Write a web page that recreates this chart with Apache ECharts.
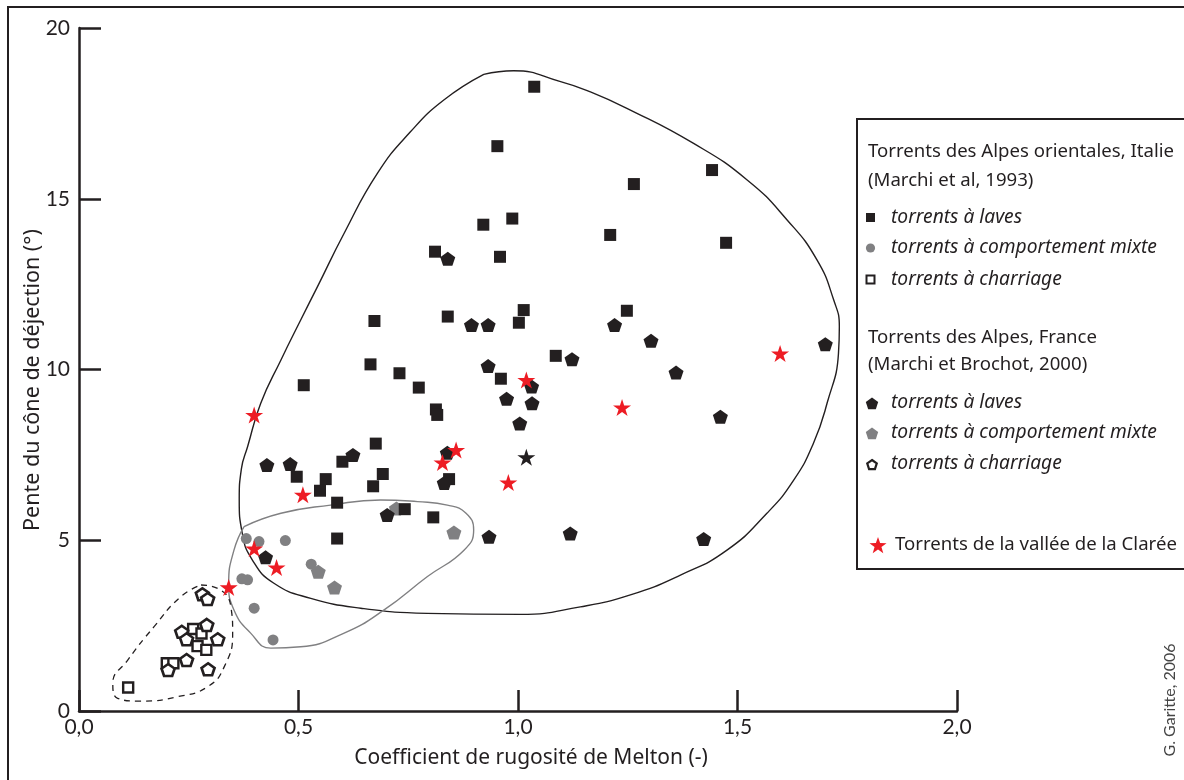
<!DOCTYPE html>
<html>
<head>
<meta charset="utf-8">
<script src="https://cdn.jsdelivr.net/npm/echarts@6/dist/echarts.min.js"></script>
<style>
html,body{margin:0;padding:0;background:#fff;}
#chart{width:1184px;height:780px;}
</style>
</head>
<body>
<div id="chart"></div>
<script>
// ---------- DATA ----------
const xTicks = [0, 0.5, 1.0, 1.5, 2.0];
const yTicks = [0, 5, 10, 15, 20];

// Torrents des Alpes orientales, Italie (Marchi et al, 1993)
const italieLaves = [
  [1.037,18.28],[0.953,16.54],[0.987,14.42],[0.921,14.24],[0.811,13.45],[0.959,13.30],
  [1.013,11.74],[0.840,11.55],[1.002,11.37],[0.673,11.42],[0.664,10.15],[0.730,9.89],
  [0.512,9.54],[0.774,9.47],[0.813,8.83],[0.816,8.67],[0.961,9.73],[1.086,10.40],
  [0.676,7.83],[0.600,7.30],[0.496,6.86],[0.562,6.79],[0.549,6.45],[0.692,6.94],
  [0.670,6.58],[0.588,6.10],[0.843,6.79],[0.742,5.91],[0.807,5.67],[0.588,5.05],
  [1.442,15.84],[1.264,15.43],[1.210,13.94],[1.474,13.71],[1.248,11.72]
];
const italieMixte = [
  [0.381,5.05],[0.410,4.96],[0.470,4.99],[0.529,4.30],[0.371,3.87],[0.384,3.84],
  [0.399,3.01],[0.442,2.08]
];
const italieCharriage = [
  [0.260,2.40],[0.279,2.27],[0.270,1.90],[0.290,1.79],[0.200,1.40],[0.215,1.40],[0.112,0.69]
];

// Torrents des Alpes, France (Marchi et Brochot, 2000)
const franceLaves = [
  [0.840,13.24],[0.894,11.30],[0.932,11.30],[0.932,10.10],[1.031,9.50],[1.123,10.30],
  [0.974,9.14],[1.032,9.01],[1.004,8.42],[0.624,7.50],[0.428,7.20],[0.481,7.23],
  [0.839,7.56],[0.832,6.68],[0.702,5.74],[0.934,5.10],[1.119,5.20],[1.220,11.30],
  [1.303,10.84],[1.360,9.91],[1.700,10.74],[1.461,8.62],[1.423,5.04],[0.425,4.50]
];
const franceMixte = [
  [0.723,5.93],[0.854,5.23],[0.545,4.08],[0.582,3.62]
];
const franceCharriage = [
  [0.281,3.42],[0.293,3.28],[0.291,2.52],[0.234,2.32],[0.245,2.10],[0.316,2.10],
  [0.245,1.49],[0.203,1.20],[0.294,1.22]
];

// Torrents de la vallée de la Clarée
const claree = [
  [0.399,8.67],[0.510,6.33],[0.859,7.64],[0.828,7.28],[1.019,9.69],[0.978,6.69],
  [1.237,8.89],[1.597,10.47],[0.399,4.76],[0.450,4.20],[0.341,3.62]
];
const clareeNoir = [[1.019,7.43]];

// Enveloppes (contours tracés à main levée)
const envLaves = [
  [0.922,18.64],[0.990,18.75],[1.097,18.43],[1.165,18.13],[1.248,17.65],[1.400,16.62],
  [1.522,15.55],[1.613,14.38],[1.681,13.21],[1.719,12.04],[1.732,11.25],[1.730,10.47],
  [1.704,9.01],[1.673,7.84],[1.628,6.76],[1.567,5.79],[1.476,4.71],[1.370,3.98],
  [1.256,3.40],[1.142,3.05],[1.006,2.83],[0.793,2.86],[0.642,3.01],[0.528,3.30],
  [0.444,3.74],[0.395,4.42],[0.372,5.20],[0.365,6.18],[0.370,7.10],[0.384,7.74],
  [0.414,9.01],[0.460,10.28],[0.505,11.45],[0.543,12.42],[0.604,13.99],[0.680,15.75],
  [0.755,16.96],[0.831,17.89],[0.922,18.64]
];
const envMixte = [
  [0.376,5.40],[0.460,5.79],[0.573,6.03],[0.687,6.18],[0.771,6.13],[0.839,6.03],
  [0.881,5.80],[0.899,5.30],[0.877,4.71],[0.793,3.93],[0.695,2.96],[0.604,2.28],
  [0.505,1.88],[0.437,1.84],[0.391,2.28],[0.353,2.96],[0.341,3.74],[0.353,4.71],[0.376,5.40]
];
const envCharriage = [
  [0.278,3.69],[0.316,3.59],[0.346,3.05],[0.350,2.28],[0.331,1.30],[0.293,0.71],
  [0.225,0.42],[0.141,0.29],[0.088,0.37],[0.077,0.81],[0.111,1.49],[0.171,2.47],
  [0.232,3.35],[0.278,3.69]
];

// ---------- STYLE ----------
const INK = '#231f20';
const GREY = '#808082';
const RED = '#ed1c24';
const FONT = 'Lato';
const TFONT = 'Noto Sans';
const PENTA = 'path://M0,-1 L0.951,-0.309 L0.588,0.809 L-0.588,0.809 L-0.951,-0.309 Z';
const STAR = 'path://M0,-1 L0.2245,-0.309 L0.951,-0.309 L0.363,0.118 L0.588,0.809 L0,0.382 L-0.588,0.809 L-0.363,0.118 L-0.951,-0.309 L-0.2245,-0.309 Z';

function fmt(v){ return v.toFixed(1).replace('.', ','); }

function pentaPts(cx, cy, r){
  const p = [];
  for (let i = 0; i < 5; i++){
    const a = -Math.PI/2 + i*2*Math.PI/5;
    p.push([cx + r*Math.cos(a), cy + r*Math.sin(a)]);
  }
  return p;
}
function starPts(cx, cy, R, r){
  const p = [];
  for (let i = 0; i < 10; i++){
    const a = -Math.PI/2 + i*Math.PI/5;
    const rr = i % 2 === 0 ? R : r;
    p.push([cx + rr*Math.cos(a), cy + rr*Math.sin(a)]);
  }
  return p;
}

const chart = echarts.init(document.getElementById('chart'), null, {renderer:'canvas'});

function envSeries(data, color, type, width){
  return {
    type:'line', data:data, smooth:0.5, symbol:'none', z:1, silent:true,
    lineStyle:{color:color, width:width, type:type}
  };
}

const legendText = {fill:INK, fontFamily:TFONT, fontSize:18.6};
const legendItal = {fill:INK, fontFamily:TFONT, fontSize:19.2, fontStyle:'italic'};

const option = {
  animation:false,
  backgroundColor:'#fff',
  grid:{left:79, right:227, top:28, bottom:69, containLabel:false},
  xAxis:{
    type:'value', min:0, max:2, interval:0.5,
    axisLine:{show:true, lineStyle:{color:INK, width:2.5}},
    axisTick:{show:true, inside:true, length:21, lineStyle:{color:INK, width:2.5}},
    axisLabel:{color:INK, fontFamily:FONT, fontSize:21, margin:6, formatter:fmt},
    splitLine:{show:false}
  },
  yAxis:{
    type:'value', min:0, max:20, interval:5,
    axisLine:{show:true, lineStyle:{color:INK, width:2.5}},
    axisTick:{show:true, inside:true, length:22, lineStyle:{color:INK, width:2.5}},
    axisLabel:{color:INK, fontFamily:FONT, fontSize:21, margin:9},
    splitLine:{show:false}
  },
  series:[
    envSeries(envLaves, INK, 'solid', 1.4),
    envSeries(envMixte, GREY, 'solid', 1.4),
    envSeries(envCharriage, INK, [6,5], 1.3),
    {name:'Italie mixte', type:'scatter', data:italieMixte, symbol:'circle', symbolSize:11, z:3,
      itemStyle:{color:GREY, opacity:1}},
    {name:'France mixte', type:'scatter', data:franceMixte, symbol:PENTA, symbolSize:[15,14], z:3,
      itemStyle:{color:GREY, opacity:1}},
    {name:'Italie charriage', type:'scatter', data:italieCharriage, symbol:'rect', symbolSize:10, z:4,
      itemStyle:{color:'#fff', borderColor:INK, borderWidth:2.4, opacity:1}},
    {name:'France charriage', type:'scatter', data:franceCharriage, symbol:PENTA, symbolSize:[13,12], z:4,
      itemStyle:{color:'#fff', borderColor:INK, borderWidth:2.6, opacity:1}},
    {name:'Italie laves', type:'scatter', data:italieLaves, symbol:'rect', symbolSize:12, z:5,
      itemStyle:{color:INK, opacity:1}},
    {name:'France laves', type:'scatter', data:franceLaves, symbol:PENTA, symbolSize:[15,14], z:5,
      itemStyle:{color:INK, opacity:1}},
    {name:'Clarée (noir)', type:'scatter', data:clareeNoir, symbol:STAR, symbolSize:[18,17], z:6,
      itemStyle:{color:INK, opacity:1}},
    {name:'Clarée', type:'scatter', data:claree, symbol:STAR, symbolSize:[18,17], z:7,
      itemStyle:{color:RED, opacity:1}}
  ],
  graphic:[
    // cadre extérieur
    {type:'rect', shape:{x:8, y:7, width:1200, height:800}, style:{fill:'none', stroke:INK, lineWidth:2}, z:0, silent:true},
    // titres des axes
    {type:'text', x:531, y:758,
      style:{text:'Coefficient de rugosité de Melton (-)', fill:INK, fontFamily:TFONT, fontSize:21, align:'center', verticalAlign:'middle'}, z:11},
    {type:'text', x:33, y:380, rotation:Math.PI/2,
      style:{text:'Pente du cône de déjection (°)', fill:INK, fontFamily:TFONT, fontSize:21.5, align:'center', verticalAlign:'middle'}, z:11},
    // légende
    {type:'rect', shape:{x:857, y:119, width:340, height:450}, style:{fill:'#fff', stroke:INK, lineWidth:2}, z:10},
    {type:'text', x:868, y:152, style:Object.assign({text:'Torrents des Alpes orientales, Italie', verticalAlign:'middle'}, legendText), z:11},
    {type:'text', x:868, y:181, style:Object.assign({text:'(Marchi et al, 1993)', verticalAlign:'middle'}, legendText), z:11},
    {type:'rect', shape:{x:866, y:213, width:9, height:9}, style:{fill:INK}, z:11},
    {type:'text', x:891, y:218, style:Object.assign({text:'torrents à laves', verticalAlign:'middle'}, legendItal), z:11},
    {type:'circle', shape:{cx:870.5, cy:248, r:4.6}, style:{fill:GREY}, z:11},
    {type:'text', x:891, y:248, style:Object.assign({text:'torrents à comportement mixte', verticalAlign:'middle'}, legendItal), z:11},
    {type:'rect', shape:{x:866.5, y:275.5, width:8, height:8}, style:{fill:'#fff', stroke:INK, lineWidth:2}, z:11},
    {type:'text', x:891, y:280, style:Object.assign({text:'torrents à charriage', verticalAlign:'middle'}, legendItal), z:11},

    {type:'text', x:868, y:338, style:Object.assign({text:'Torrents des Alpes, France', verticalAlign:'middle'}, legendText), z:11},
    {type:'text', x:868, y:365, style:Object.assign({text:'(Marchi et Brochot, 2000)', verticalAlign:'middle'}, legendText), z:11},
    {type:'polygon', shape:{points:pentaPts(872, 404, 6.5)}, style:{fill:INK}, z:11},
    {type:'text', x:891, y:403, style:Object.assign({text:'torrents à laves', verticalAlign:'middle'}, legendItal), z:11},
    {type:'polygon', shape:{points:pentaPts(872, 434, 6.5)}, style:{fill:GREY}, z:11},
    {type:'text', x:891, y:433, style:Object.assign({text:'torrents à comportement mixte', verticalAlign:'middle'}, legendItal), z:11},
    {type:'polygon', shape:{points:pentaPts(872, 465, 5)}, style:{fill:'#fff', stroke:INK, lineWidth:2.2}, z:11},
    {type:'text', x:891, y:464, style:Object.assign({text:'torrents à charriage', verticalAlign:'middle'}, legendItal), z:11},

    {type:'polygon', shape:{points:starPts(878, 546, 9, 3.6)}, style:{fill:RED}, z:11},
    {type:'text', x:895, y:545, style:Object.assign({text:'Torrents de la vallée de la Clarée', verticalAlign:'middle'}, legendText), z:11},

    // signature
    {type:'text', x:1170, y:700, rotation:Math.PI/2,
      style:{text:'G. Garitte, 2006', fill:'#444', fontFamily:FONT, fontSize:16, align:'center', verticalAlign:'middle'}, z:11}
  ]
};
chart.setOption(option);
</script>
</body>
</html>
